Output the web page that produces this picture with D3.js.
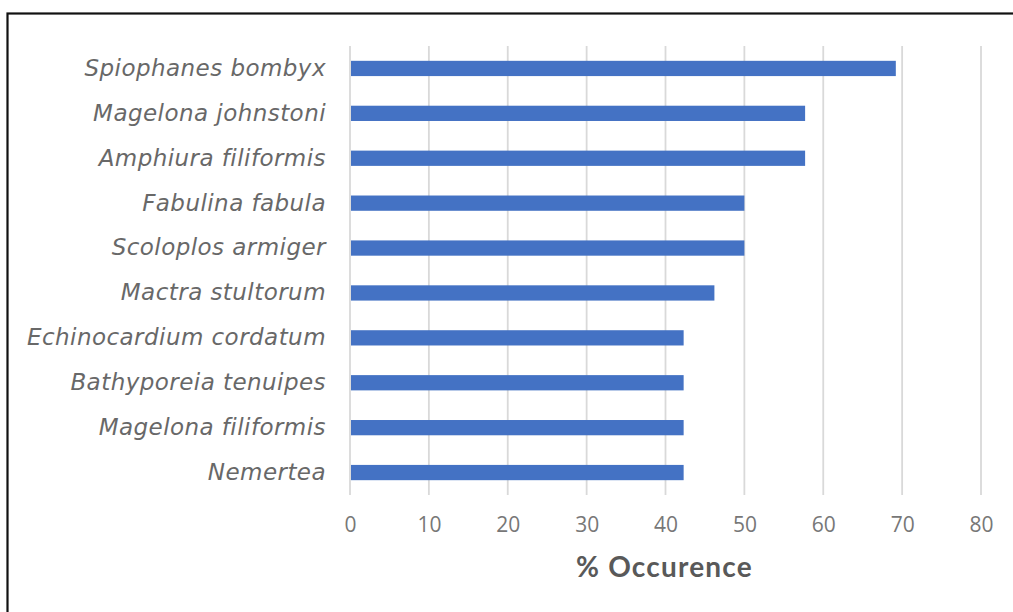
<!DOCTYPE html>
<html>
<head>
<meta charset="utf-8">
<script src="https://cdn.jsdelivr.net/npm/d3@7/dist/d3.min.js"></script>
<style>
  html, body { margin: 0; padding: 0; background: #fff; }
  svg { display: block; }
</style>
</head>
<body>
<svg id="chart" width="1013" height="612"></svg>
<script>
// Species ranked by percentage occurrence
const species = [
  "Spiophanes bombyx",
  "Magelona johnstoni",
  "Amphiura filiformis",
  "Fabulina fabula",
  "Scoloplos armiger",
  "Mactra stultorum",
  "Echinocardium cordatum",
  "Bathyporeia tenuipes",
  "Magelona filiformis",
  "Nemertea"
];
const occurrence = [69.2, 57.7, 57.7, 50.0, 50.0, 46.2, 42.3, 42.3, 42.3, 42.3];
const xTicks = [0, 10, 20, 30, 40, 50, 60, 70, 80];
const xTitle = "% Occurence";

const svg = d3.select("#chart");

// Outer chart frame
svg.append("rect")
  .attr("x", 7.5).attr("y", 13.5)
  .attr("width", 1020).attr("height", 620)
  .attr("fill", "#fff")
  .attr("stroke", "#111").attr("stroke-width", 2.2);

const plot = { left: 350, right: 981, top: 46, bottom: 495 };

const x = d3.scaleLinear().domain([0, 80]).range([plot.left, plot.right]);
const y = d3.scaleBand().domain(species).range([plot.top, plot.bottom]).paddingInner(0.66).paddingOuter(0.33);

// Vertical gridlines
svg.append("g")
  .selectAll("line")
  .data(xTicks)
  .join("line")
  .attr("x1", d => x(d)).attr("x2", d => x(d))
  .attr("y1", plot.top).attr("y2", plot.bottom)
  .attr("stroke", "#d9d9d9").attr("stroke-width", 1.8);

// Bars
svg.append("g")
  .selectAll("rect")
  .data(species.map((s, i) => ({ s, v: occurrence[i] })))
  .join("rect")
  .attr("x", x(0) + 1)
  .attr("y", d => y(d.s))
  .attr("width", d => x(d.v) - x(0) - 1)
  .attr("height", y.bandwidth())
  .attr("fill", "#4472c4");

// Category labels
const yAxis = d3.axisLeft(y).tickSize(0).tickPadding(24);
svg.append("g")
  .attr("transform", `translate(${plot.left},0)`)
  .call(yAxis)
  .call(g => g.select(".domain").remove())
  .call(g => g.selectAll("text")
    .attr("font-family", "'DejaVu Sans', sans-serif")
    .attr("font-style", "italic")
    .attr("font-size", 23)
    .attr("letter-spacing", 0.45)
    .attr("fill", "#686868"));

// Value axis labels
const xAxis = d3.axisBottom(x).tickValues(xTicks).tickSize(0).tickPadding(22);
svg.append("g")
  .attr("transform", `translate(0,${plot.bottom})`)
  .call(xAxis)
  .call(g => g.select(".domain").remove())
  .call(g => g.selectAll("text")
    .attr("font-family", "'Open Sans', sans-serif")
    .attr("font-size", 21)
    .attr("fill", "#777777"));

// Axis title
svg.append("text")
  .attr("x", (plot.left + plot.right) / 2 - 1)
  .attr("y", 577)
  .attr("text-anchor", "middle")
  .attr("font-family", "Lato, sans-serif")
  .attr("font-weight", "bold")
  .attr("font-size", 28)
  .attr("letter-spacing", 1.2)
  .attr("fill", "#595959")
  .text(xTitle);
</script>
</body>
</html>
